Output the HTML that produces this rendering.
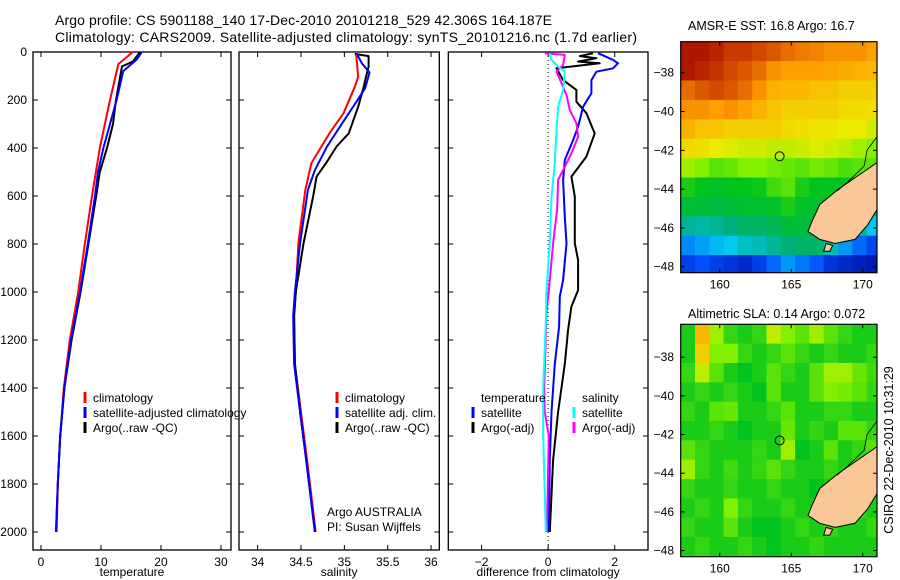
<!DOCTYPE html>
<html><head><meta charset="utf-8"><style>
html,body{margin:0;padding:0;background:#fff;}
svg{display:block;font-family:"Liberation Sans",sans-serif;}
</style></head><body>
<svg id="fig" width="900" height="580" viewBox="0 0 900 580">
<text x="55" y="25" font-size="14" textLength="497">Argo profile: CS 5901188_140 17-Dec-2010 20101218_529 42.306S 164.187E</text>
<text x="55" y="42" font-size="14" textLength="582">Climatology: CARS2009. Satellite-adjusted climatology: synTS_20101216.nc (1.7d earlier)</text>
<text x="688" y="30" font-size="12.5">AMSR-E SST: 16.8 Argo: 16.7</text>
<text x="688" y="318" font-size="12.5">Altimetric SLA: 0.14 Argo: 0.072</text>
<text transform="translate(893,450) rotate(-90)" text-anchor="middle" font-size="12.5">CSIRO 22-Dec-2010 10:31:29</text>
<text x="327" y="516" font-size="12">Argo AUSTRALIA</text>
<text x="327" y="531" font-size="12">PI: Susan Wijffels</text>
</svg>
<script>
// ---------- data ----------
const depthTicks=[0,200,400,600,800,1000,1200,1400,1600,1800,2000];
const tempTicks=[0,10,20,30];
const salTicks=[34,34.5,35,35.5,36];
const salTickLabels=['34','34.5','35','35.5','36'];
const diffTicks=[-2,0,2];
const lonTicks=[160,165,170];
const latTicks=[-38,-40,-42,-44,-46,-48];

const tClimD=[0,50,200,400,600,800,1000,1200,1400,1600,1800,2000];
const tClimV=[15.3,12.9,11.5,9.8,8.5,7.3,6.2,4.8,3.8,3.2,2.8,2.6];
const tSatD=[0,30,80,200,400,500,600,800,1000,1200,1400,1600,1800,2000];
const tSatV=[16.8,16,13.7,12.6,10.4,9.5,9.0,7.8,6.5,5.0,3.9,3.2,2.8,2.5];
const tArgoD=[0,40,60,200,300,400,500,600,800,1000,1200,1400,1600,1800,2000];
const tArgoV=[16.5,15.3,13.5,12.5,12,11,9.8,9.2,7.9,6.6,5.1,3.9,3.2,2.8,2.5];

const sClimD=[5,103,145,255,338,463,575,796,1000,1100,1300,1500,1700,2000];
const sClimV=[35.135,35.16,35.12,34.99,34.83,34.62,34.55,34.47,34.44,34.42,34.43,34.5,34.57,34.67];
const sSatD=[5,46,86,150,207,311,394,492,575,796,1000,1100,1300,1500,1700,2000];
const sSatV=[35.14,35.2,35.29,35.24,35.14,34.95,34.8,34.66,34.58,34.49,34.43,34.41,34.42,34.49,34.56,34.66];
const sArgoD=[8,17,61,103,151,228,339,394,457,519,603,796,1000,1100,1300,1500,1700,2000];
const sArgoV=[35.12,35.28,35.28,35.25,35.22,35.16,35.05,34.91,34.8,34.68,34.64,34.53,34.44,34.42,34.43,34.49,34.56,34.66];

const dTSatD=[5,33,47,68,82,117,172,228,311,367,450,533,686,797,950,1019,1144,1300,1500,1700,2000];
const dTSatV=[1.5,1.95,2.1,1.95,1.45,1.3,1.3,1.05,0.9,0.75,0.5,0.45,0.5,0.55,0.45,0.35,0.33,0.2,0.1,0.05,0.02];
const dTArgoD=[5,17,26,40,47,68,117,158,207,255,339,436,519,603,797,867,992,1061,1158,1300,1500,1700,2000];
const dTArgoV=[1.35,0.95,1.45,0.9,1.55,0.25,0.45,0.85,0.85,1.15,1.4,1.15,0.7,0.8,0.8,0.9,0.9,0.7,0.6,0.5,0.3,0.15,0.05];
const dSArgoD=[5,12,54,82,130,179,242,297,353,422,478,533,658,797,950,1089,1400,1500,1600,2000];
const dSArgoV=[-0.1,0.5,0.45,0.25,0.4,0.55,0.65,0.85,0.9,0.7,0.5,0.3,0.27,0.15,0.05,-0.05,-0.12,-0.1,0.02,-0.04];
const dSSatD=[5,33,61,82,158,228,325,464,603,797,992,1130,1400,1600,2000];
const dSSatV=[0.05,0.1,0.3,0.5,0.45,0.3,0.25,0.2,0.1,0.05,-0.05,-0.07,-0.15,-0.15,-0.07];

const sstGrid=[
[0.97,0.97,0.95,0.92,0.92,0.9,0.88,0.85,0.83,0.82,0.8,0.8,0.8,0.78],
[0.97,0.95,0.93,0.9,0.88,0.85,0.8,0.78,0.78,0.78,0.77,0.76,0.75,0.74],
[0.85,0.88,0.9,0.88,0.85,0.8,0.75,0.74,0.74,0.72,0.72,0.7,0.7,0.7],
[0.8,0.8,0.78,0.8,0.78,0.75,0.72,0.7,0.7,0.7,0.7,0.68,0.68,0.67],
[0.75,0.72,0.72,0.7,0.7,0.7,0.7,0.68,0.67,0.66,0.66,0.65,0.65,0.63],
[0.68,0.67,0.65,0.64,0.63,0.63,0.62,0.62,0.63,0.64,0.63,0.62,0.6,0.58],
[0.6,0.58,0.55,0.56,0.58,0.58,0.57,0.56,0.55,0.57,0.56,0.54,0.55,0.55],
[0.5,0.48,0.47,0.48,0.48,0.49,0.53,0.55,0.5,0.48,0.48,0.48,0.48,0.48],
[0.45,0.45,0.44,0.45,0.46,0.46,0.47,0.5,0.47,0.46,0.45,0.45,0.45,0.45],
[0.36,0.35,0.36,0.38,0.4,0.4,0.42,0.45,0.45,0.44,0.42,0.4,0.36,0.3],
[0.22,0.25,0.28,0.3,0.33,0.34,0.36,0.38,0.4,0.4,0.34,0.24,0.18,0.13],
[0.12,0.15,0.12,0.1,0.08,0.12,0.18,0.24,0.2,0.16,0.1,0.08,0.06,0.05]];
const slaGrid=[
[0.5,0.74,0.6,0.52,0.5,0.52,0.62,0.58,0.55,0.6,0.55,0.52,0.5,0.5],
[0.5,0.7,0.58,0.58,0.52,0.5,0.52,0.55,0.52,0.5,0.52,0.5,0.5,0.52],
[0.52,0.62,0.55,0.5,0.48,0.5,0.55,0.52,0.5,0.55,0.6,0.6,0.56,0.53],
[0.5,0.52,0.5,0.52,0.5,0.48,0.55,0.5,0.5,0.55,0.58,0.57,0.55,0.52],
[0.52,0.5,0.55,0.56,0.5,0.5,0.52,0.55,0.5,0.5,0.52,0.52,0.5,0.5],
[0.5,0.5,0.52,0.5,0.48,0.5,0.5,0.56,0.5,0.52,0.5,0.55,0.55,0.52],
[0.55,0.52,0.5,0.5,0.5,0.52,0.5,0.6,0.48,0.5,0.55,0.5,0.52,0.55],
[0.6,0.52,0.5,0.53,0.5,0.52,0.55,0.52,0.5,0.5,0.52,0.5,0.52,0.5],
[0.52,0.5,0.5,0.52,0.5,0.5,0.52,0.5,0.5,0.48,0.5,0.52,0.5,0.5],
[0.5,0.52,0.5,0.58,0.52,0.5,0.5,0.52,0.5,0.5,0.5,0.52,0.52,0.5],
[0.52,0.5,0.5,0.55,0.5,0.48,0.48,0.5,0.52,0.5,0.52,0.5,0.5,0.52],
[0.5,0.52,0.5,0.5,0.52,0.5,0.48,0.5,0.5,0.52,0.5,0.5,0.5,0.5]];
const landLon=[171.0,169.8,168.27,167.0,166.45,166.17,167.0,168.07,169.46,170.37,171.0];
const landLat=[-42.63,-43.24,-44.02,-44.79,-45.66,-46.18,-46.59,-46.8,-46.59,-45.82,-45.05];
const islLon=[167.43,167.9,167.7,167.27];
const islLat=[-46.8,-46.9,-47.2,-47.2];
const floatLon=164.187, floatLat=-42.306;

// ---------- helpers ----------
const NS='http://www.w3.org/2000/svg';
const svg=document.getElementById('fig');
function el(tag,attrs,parent){const e=document.createElementNS(NS,tag);for(const k in attrs)e.setAttribute(k,attrs[k]);(parent||svg).appendChild(e);return e;}
const Y0=52,Y1=550;
const yD=d=>Y0+d*0.24;

function panel(name,x0,x1,xmin,xmax,ticks,labels,xlabel,showDepth){
  const sx=v=>x0+(v-xmin)/(xmax-xmin)*(x1-x0);
  const g=el('g',{});
  
  
  const r=el('rect',{x:x0,y:Y0,width:x1-x0,height:Y1-Y0,fill:'none',stroke:'#000','stroke-width':1.3},g);
  
  
  ticks.forEach((t,i)=>{
    const x=sx(t);
    el('line',{x1:x,x2:x,y1:Y1,y2:Y1-5,stroke:'#000'},g);
    el('line',{x1:x,x2:x,y1:Y0,y2:Y0+5,stroke:'#000'},g);
    const tx=el('text',{x:x,y:Y1+16,'font-size':12,'text-anchor':'middle'},g);
    tx.textContent=labels[i];
    
    
  });
  depthTicks.forEach(d=>{
    const y=yD(d);
    el('line',{x1:x0,x2:x0+5,y1:y,y2:y,stroke:'#000'},g);
    el('line',{x1:x1,x2:x1-5,y1:y,y2:y,stroke:'#000'},g);
    if(showDepth){
      const tx=el('text',{x:27,y:y+4,'font-size':12,'text-anchor':'end'},g);
      tx.textContent=String(d);
      
      
    }
  });
  const xl=el('text',{x:(x0+x1)/2,y:Y1+26,'font-size':12,'text-anchor':'middle'},g);
  xl.textContent=xlabel;
  
  
  return sx;
}
function stepLine(sx,D,V,color,name,w){
  let pts=[];
  for(let i=0;i<D.length;i++){pts.push(sx(V[i]).toFixed(1)+','+yD(D[i]).toFixed(1));}
  const p=el('polyline',{points:pts.join(' '),fill:'none',stroke:color,'stroke-width':w||2,'stroke-linejoin':'round'});
  
  
}
function legend(items,x,y){
  items.forEach((it,i)=>{
    const yy=y+i*15;
    if(it.c){el('line',{x1:x,x2:x,y1:yy-10,y2:yy+1,stroke:it.c,'stroke-width':3});}
    const t=el('text',{x:x+8,y:yy,'font-size':12});
    t.textContent=it.t;
    
    
  });
}

// ---------- profile panels ----------
const sxT=panel('temperature',33,231,-1.33,31.67,tempTicks,tempTicks.map(String),'temperature',true);
stepLine(sxT,tClimD,tClimV,'#f00','temp-climatology-line');
stepLine(sxT,tArgoD,tArgoV,'#000','temp-argo-line');
stepLine(sxT,tSatD,tSatV,'#00f','temp-satellite-line');
legend([{c:'#f00',t:'climatology'},{c:'#00f',t:'satellite-adjusted climatology'},{c:'#000',t:'Argo(..raw -QC)'}],85,402);

const sxS=panel('salinity',239,439.3,33.785,36.095,salTicks,salTickLabels,'salinity',false);
stepLine(sxS,sClimD,sClimV,'#f00','sal-climatology-line');
stepLine(sxS,sArgoD,sArgoV,'#000','sal-argo-line');
stepLine(sxS,sSatD,sSatV,'#00f','sal-satellite-line');
legend([{c:'#f00',t:'climatology'},{c:'#00f',t:'satellite adj. clim.'},{c:'#000',t:'Argo(..raw -QC)'}],337,402);

const sxD=panel('difference',448.3,648,-3,3,diffTicks,diffTicks.map(t=>t<0?'\u22122':String(t)),'difference from climatology',false);
el('line',{x1:sxD(0),x2:sxD(0),y1:Y0,y2:Y1,stroke:'#000','stroke-dasharray':'1,3'});
stepLine(sxD,dTArgoD,dTArgoV,'#000','diff-temp-argo-line');
stepLine(sxD,dTSatD,dTSatV,'#00f','diff-temp-satellite-line');
stepLine(sxD,dSArgoD,dSArgoV,'#f0f','diff-sal-argo-line');
stepLine(sxD,dSSatD,dSSatV,'#0ff','diff-sal-satellite-line');
legend([{c:null,t:'temperature'},{c:'#00f',t:'satellite'},{c:'#000',t:'Argo(-adj)'}],473,402);
legend([{c:null,t:'salinity'},{c:'#0ff',t:'satellite'},{c:'#f0f',t:'Argo(-adj)'}],574,402);

// ---------- maps ----------
const stops=[[0,[0,0,140]],[0.15,[0,80,255]],[0.3,[0,200,240]],[0.38,[0,175,120]],[0.48,[0,195,30]],[0.58,[130,240,0]],[0.65,[235,235,0]],[0.78,[255,160,0]],[0.87,[225,95,0]],[1,[160,0,0]]];
function cmap(v){
  for(let i=1;i<stops.length;i++){if(v<=stops[i][0]){const a=stops[i-1],b=stops[i];const f=(v-a[0])/(b[0]-a[0]);
    const c=a[1].map((q,j)=>Math.round(q+(b[1][j]-q)*f));return 'rgb('+c.join(',')+')';}}
  return 'rgb(160,0,0)';
}
function map(name,top,bottom,latTopV,latPx,grid){
  const L=680.7,R=877,lon0=157.27,lonPx=14.3;
  const sx=lon=>L+(lon-lon0)*lonPx;
  const sy=lat=>top+(latTopV-lat)*latPx;
  const g=el('g',{});
  
  
  const cp=el('clipPath',{id:name+'-clip'},g);
  el('rect',{x:L,y:top,width:R-L,height:bottom-top},cp);
  const inner=el('g',{'clip-path':'url(#'+name+'-clip)'},g);
  grid.forEach((row,r)=>row.forEach((v,c)=>{
    const cell=el('rect',{x:sx(lon0+c).toFixed(1),y:sy(latTopV-r).toFixed(1),width:lonPx+0.6,height:latPx+0.6,fill:cmap(v)},inner);
    
    
  }));
  const land=el('polygon',{points:landLon.map((lo,i)=>sx(lo).toFixed(1)+','+sy(landLat[i]).toFixed(1)).join(' '),fill:'#f9c896',stroke:'#000','stroke-width':1},inner);
  
  
  const isl=el('polygon',{points:islLon.map((lo,i)=>sx(lo).toFixed(1)+','+sy(islLat[i]).toFixed(1)).join(' '),fill:'#f9c896',stroke:'#000','stroke-width':1},inner);
  
  
  el('polyline',{points:[[171,-41.3],[170.3,-42.0],[170.1,-42.8],[169.0,-43.6],[168.2,-44.1]].map(p=>sx(p[0]).toFixed(1)+','+sy(p[1]).toFixed(1)).join(' '),fill:'none',stroke:'#000','stroke-width':0.8},inner);
  const ci=el('circle',{cx:sx(floatLon),cy:sy(floatLat),r:4.5,fill:'none',stroke:'#000','stroke-width':1},g);
  
  
  el('rect',{x:L,y:top,width:R-L,height:bottom-top,fill:'none',stroke:'#000','stroke-width':1.2},g);
  lonTicks.forEach(lo=>{
    const x=sx(lo);
    el('line',{x1:x,x2:x,y1:bottom,y2:bottom-4,stroke:'#000'},g);
    el('line',{x1:x,x2:x,y1:top,y2:top+4,stroke:'#000'},g);
    const t=el('text',{x:x,y:bottom+16,'font-size':12,'text-anchor':'middle'},g);
    t.textContent=String(lo);
    
    
  });
  latTicks.forEach(la=>{
    const y=sy(la);
    el('line',{x1:L,x2:L+4,y1:y,y2:y,stroke:'#000'},g);
    el('line',{x1:R,x2:R-4,y1:y,y2:y,stroke:'#000'},g);
    const t=el('text',{x:674,y:y+4,'font-size':12,'text-anchor':'end'},g);
    t.textContent='\u2212'+String(-la);
    
    
  });
}
map('sst-map',41.7,272.7,-36.4,19.4,sstGrid);
map('sla-map',324.3,556.7,-36.3,19.34,slaGrid);
</script>
</body></html>
